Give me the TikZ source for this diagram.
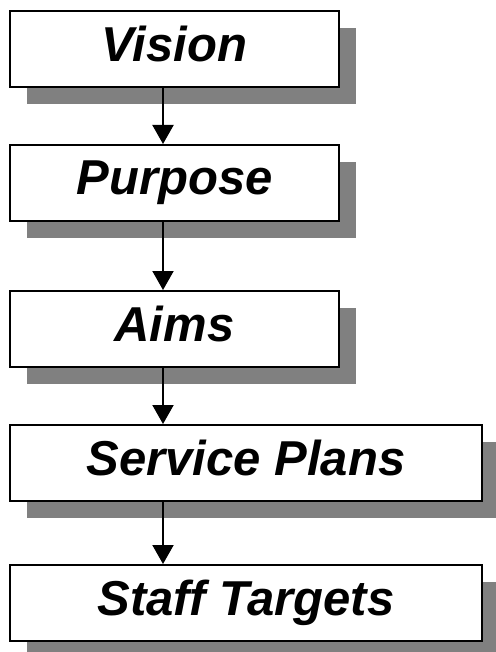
\documentclass[tikz,border=0pt]{standalone}
\usepackage{fontspec}
\setmainfont{Liberation Sans}
\usetikzlibrary{arrows.meta,shadows}
\definecolor{shadowgray}{HTML}{808080}

\begin{document}
\begin{tikzpicture}[x=1pt, y=1pt, >={Triangle[length=19pt,width=21pt]},
  every box/.style={draw=black, line width=2pt, fill=white, minimum height=76pt,
    text height=36pt, text depth=12pt, inner sep=0pt,
    font=\bfseries\itshape\fontsize{49}{58}\selectfont,
    drop shadow={shadow xshift=17pt, shadow yshift=-17pt, fill=shadowgray, opacity=1}},
  link/.style={->, line width=2pt}]
\useasboundingbox (0,0) rectangle (495,-652);

% boxes, top to bottom
\foreach \n/\t/\w/\x/\y in {vision/Vision/329/174.5/-49.5,
    purpose/Purpose/329/174.5/-183,
    aims/Aims/329/174.5/-329,
    plans/Service Plans/472/246/-463,
    targets/Staff Targets/472/246/-603}
  \node [every box/.try, minimum width=\w] (\n) at (\x,\y) {\t};

% arrows run down one line
\coordinate (spine) at (163,0);
\foreach \a/\b in {vision/purpose, purpose/aims, aims/plans, plans/targets}
  \draw [link] (\a.south -| spine) -- (\b.north -| spine);
\end{tikzpicture}
\end{document}
